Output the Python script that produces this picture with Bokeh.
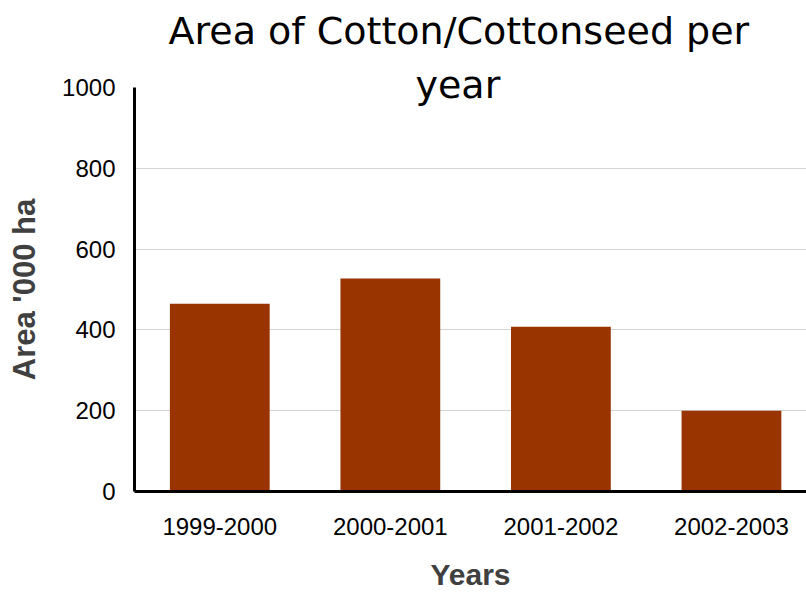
from bokeh.plotting import figure
from bokeh.models import Range1d, FixedTicker, ColumnDataSource, Title
from bokeh.embed import file_html
from bokeh.resources import INLINE

years = ["1999-2000", "2000-2001", "2001-2002", "2002-2003"]
area = [465, 527, 408, 200]
y_ticks = [0, 200, 400, 600, 800, 1000]
title_lines = ["Area of Cotton/Cottonseed per", "year"]

xpos = [i + 0.5 for i in range(len(years))]
src = ColumnDataSource(dict(x=xpos, top=area, year=years))

p = figure(width=806, height=593, output_backend="svg", toolbar_location=None,
           x_range=Range1d(0, 3.94), y_range=Range1d(0, 1000),
           min_border_left=134, min_border_right=0, min_border_top=87,
           min_border_bottom=102)
p.title = None
p.outline_line_color = None
p.background_fill_color = "white"
p.border_fill_color = "white"

# two-line title; the second line overlaps the plot area as in the reference
# (panels above are stacked nearest-first: "year", a small gap, then line 1)
title_style = dict(align="left", text_font="DejaVu Sans", text_font_size="38px",
                   text_font_style="normal", text_color="black")
p.add_layout(Title(text=title_lines[1], offset=281, standoff=-39, **title_style), "above")
p.add_layout(Title(text=" ", offset=0, standoff=15, align="left",
                   text_font_size="10px", text_color="white"), "above")
p.add_layout(Title(text=title_lines[0], offset=34, standoff=0, **title_style), "above")

p.vbar(x="x", top="top", width=0.585, bottom=0, source=src,
       fill_color="#993300", line_color=None)

# axes
p.xaxis.ticker = FixedTicker(ticks=xpos)
p.xaxis.major_label_overrides = {x: y for x, y in zip(xpos, years)}
p.yaxis.ticker = FixedTicker(ticks=y_ticks)
for ax in (p.xaxis[0], p.yaxis[0]):
    ax.axis_line_color = "black"
    ax.axis_line_width = 3
    ax.major_tick_out = 0
    ax.major_tick_in = 0
    ax.minor_tick_out = 0
    ax.minor_tick_in = 0
    ax.major_label_text_font = "Liberation Sans"
    ax.major_label_text_font_size = "24px"
    ax.major_label_text_color = "black"
    ax.axis_label_text_font = "Liberation Sans"
    ax.axis_label_text_font_style = "bold"
    ax.axis_label_text_color = "#404040"

p.xaxis.axis_label = "Years"
p.yaxis.axis_label = "Area '000 ha"
p.xaxis.axis_label_text_font_size = "30px"
p.xaxis.axis_label_text_line_height = 0.8
p.yaxis.axis_label_text_font_size = "31px"
p.xaxis.major_label_standoff = 26
p.xaxis.axis_label_standoff = 20
p.yaxis.major_label_standoff = 19
p.yaxis.axis_label_standoff = 17

p.xgrid.grid_line_color = None
p.ygrid.ticker = FixedTicker(ticks=y_ticks[1:-1])
p.ygrid.grid_line_color = "#d4d4d4"
p.ygrid.grid_line_width = 1

open("out.html", "w").write(file_html(p, INLINE))
